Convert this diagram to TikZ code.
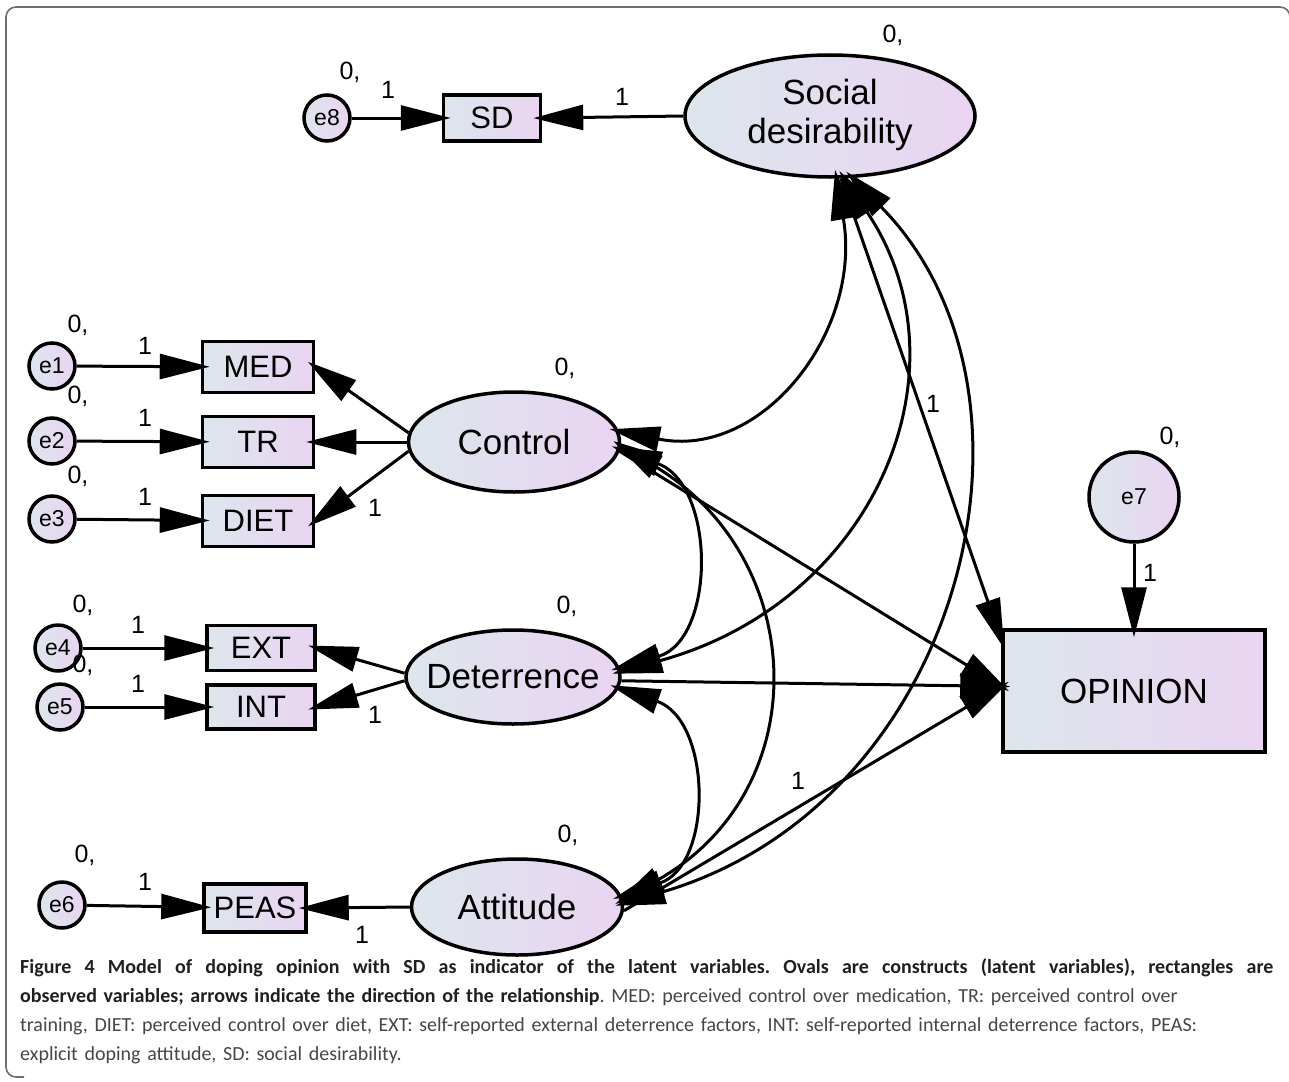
\documentclass[tikz,border=0pt]{standalone}
\usepackage{fontspec}
\setmainfont{Liberation Sans}
\newfontfamily\capfont{Carlito}
\usetikzlibrary{arrows.meta,shapes.geometric}
\usepackage{xcolor}
\definecolor{amosleft}{RGB}{221,230,236}
\definecolor{amosright}{RGB}{234,212,242}
\definecolor{framegray}{RGB}{110,110,110}
\definecolor{captext}{RGB}{70,70,70}
\frenchspacing

\begin{document}
\begin{tikzpicture}[x=1pt,y=-1pt,>={Triangle[length=50pt,width=25pt]},
		latent/.style={ellipse,draw,line width=3.5pt,left color=amosleft,right color=amosright,inner sep=0pt,font=\fontsize{35}{39}\selectfont},
		observed/.style={rectangle,draw,line width=3.5pt,left color=amosleft,right color=amosright,inner sep=0pt,font=\fontsize{31}{35}\selectfont},
		error node/.style={circle,draw,line width=3.5pt,left color=amosleft,right color=amosright,inner sep=0pt,minimum size=46pt,font=\fontsize{23}{26}\selectfont},
		num/.style={inner sep=0pt,font=\fontsize{25}{28}\selectfont},
		reg/.style={->,line width=3pt,shorten >=-9pt},
		cov/.style={<->,line width=3pt,shorten >=-9pt,shorten <=-9pt}]
	\useasboundingbox (0,0) rectangle (1289,1081);
	\draw[framegray,line width=1.6pt,rounded corners=10pt] (1290,26) |- (6,7) |- (24,1077);

	% Nodes
	\node[latent,minimum width=290pt,minimum height=122pt] (SocDes) at (830,116) {\makebox[0pt]{\begin{tabular}{@{}c@{}}Social\\desirability\end{tabular}}};
	\node[latent,minimum width=211pt,minimum height=100pt] (Control) at (514,442) {\makebox[0pt]{Control}};
	\node[latent,minimum width=214pt,minimum height=94pt] (Deterrence) at (513,677) {\makebox[0pt]{Deterrence}};
	\node[latent,minimum width=211pt,minimum height=96pt] (Attitude) at (517,907) {\makebox[0pt]{Attitude}};

	\node[observed,minimum width=97pt,minimum height=46pt] (SD) at (492,118) {SD};
	\node[observed,minimum width=111pt,minimum height=51pt] (MED) at (258,367) {MED};
	\node[observed,minimum width=111pt,minimum height=51pt] (TR) at (258,442) {TR};
	\node[observed,minimum width=111pt,minimum height=51pt] (DIET) at (258,521) {DIET};
	\node[observed,minimum width=108pt,minimum height=45pt] (EXT) at (261,648) {EXT};
	\node[observed,minimum width=108pt,minimum height=44pt] (INT) at (261,707) {INT};
	\node[observed,minimum width=102pt,minimum height=48pt] (PEAS) at (255,908) {PEAS};
	\node[observed,minimum width=262pt,minimum height=122pt,font=\fontsize{35}{39}\selectfont] (OPINION) at (1134,691) {OPINION};

	\node[error node] (e8) at (327,118) {e8};
	\node[error node] (e1) at (52,366) {e1};
	\node[error node] (e2) at (52,441) {e2};
	\node[error node] (e3) at (52,519) {e3};
	\node[error node] (e4) at (58,648) {e4};
	\node[error node] (e5) at (60,707) {e5};
	\node[error node] (e6) at (62,905) {e6};
	\node[error node,minimum size=90pt] (e7) at (1134,497) {e7};

	% Labels
	\node[num] (e8v) at (350,72) {0,};
	\node[num] (SocDesv) at (893,35) {0,};
	\node[num] (e1v) at (78,325) {0,};
	\node[num] (e2v) at (78,396) {0,};
	\node[num] (e3v) at (78,476) {0,};
	\node[num] (Controlv) at (565,368) {0,};
	\node[num] (e4v) at (83,605) {0,};
	\node[num] (e5v) at (83,665) {0,};
	\node[num] (Deterrencev) at (567,606) {0,};
	\node[num] (e6v) at (85,855) {0,};
	\node[num] (Attitudev) at (568,835) {0,};
	\node[num] (e7v) at (1170,437) {0,};

	\node[num] (e8w) at (388,90) {1};
	\node[num] (SDw) at (622,97) {1};
	\node[num] (e1w) at (145,346) {1};
	\node[num] (e2w) at (145,418) {1};
	\node[num] (e3w) at (145,497) {1};
	\node[num] (DIETw) at (375,508) {1};
	\node[num] (e4w) at (138,625) {1};
	\node[num] (e5w) at (138,684) {1};
	\node[num] (INTw) at (375,715) {1};
	\node[num] (e6w) at (145,882) {1};
	\node[num] (PEASw) at (362,935) {1};
	\node[num] (SocOpw) at (933,404) {1};
	\node[num] (AttOpw) at (798,781) {1};
	\node[num] (e7w) at (1150,573) {1};

	% Edges
	\draw[reg] (e8) -- (SD);
	\draw[reg] (SocDes.west) -- (SD.east);
	\draw[reg] (e1) -- (MED);
	\draw[reg] (e2) -- (TR);
	\draw[reg] (e3) -- (DIET);
	\draw[reg] (e4) -- (EXT);
	\draw[reg] (e5) -- (INT);
	\draw[reg] (e6) -- (PEAS);
	\draw[reg] (Control.175) -- (MED.east);
	\draw[reg] (Control.180) -- (TR.east);
	\draw[reg] (Control.185) -- (DIET.east);
	\draw[reg] (Deterrence.178) -- (EXT.east);
	\draw[reg] (Deterrence.182) -- (INT.east);
	\draw[reg] (Attitude.180) -- (PEAS.east);
	\draw[reg] (e7) -- (OPINION);
	\draw[reg] (SocDes.-80) -- (OPINION.159);
	\draw[reg] (Control.-5) -- (OPINION.178);
	\draw[reg] (Deterrence.-2) -- (OPINION.178);
	\draw[reg] (Attitude.-2) -- (OPINION.178);

	\draw[cov] (Control.6) .. controls +(143,29) and +(26,153) .. (SocDes.-84);
	\draw[cov] (Deterrence.3) .. controls +(255,-70) and +(128,190) .. (SocDes.-77);
	\draw[cov] (Attitude.2) .. controls +(340,-100) and +(212,215) .. (SocDes.-70);
	\draw[cov] (Control.-4) .. controls +(96,36) and +(96,-28) .. (Deterrence.5);
	\draw[cov] (Control.-2) .. controls +(188,114) and +(194,-110) .. (Attitude.4);
	\draw[cov] (Deterrence.-6) .. controls +(93,32) and +(92,-31) .. (Attitude.6);

	% Caption
	\node[anchor=north west,inner sep=0pt,text width=1255pt,align=left,text=captext,
		font=\capfont\fontsize{20}{29}\selectfont] (caption) at (20,958)
		{\makebox[1253pt][s]{\spaceskip=5pt plus 30pt\bfseries\color{black!88}Figure 4 Model of doping opinion with SD as indicator of the latent variables. Ovals are constructs (latent variables), rectangles are}\\
		{\bfseries\color{black!88}observed variables; arrows indicate the direction of the relationship}. MED: perceived control over medication, TR: perceived control over\\
		training, DIET: perceived control over diet, EXT: self-reported external deterrence factors, INT: self-reported internal deterrence factors, PEAS:\\
		explicit doping attitude, SD: social desirability.};
\end{tikzpicture}
\end{document}
